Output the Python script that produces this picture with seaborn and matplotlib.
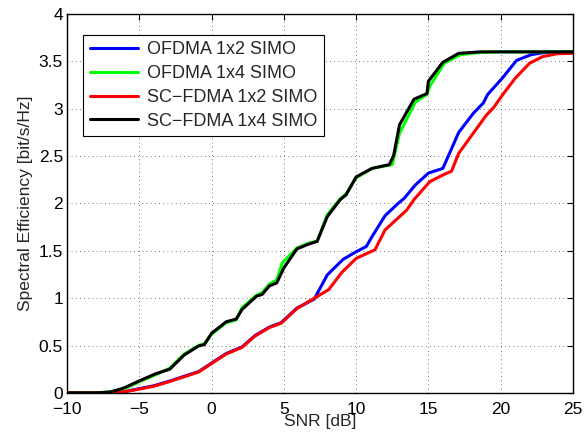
import numpy as np
import pandas as pd
import seaborn as sns
import matplotlib
matplotlib.use("Agg")
import matplotlib.pyplot as plt

# SNR [dB] breakpoints and spectral efficiency [bit/s/Hz]
snr_ofdma_2 = [-10, -9, -8, -7, -6.1, -5.0, -4.0, -2.9, -1.9, -0.9, 0, 1.0, 2.1, 3.0,
               4.0, 4.8, 5.9, 7.1, 8.0, 9.1, 10.0, 10.7, 11.1, 12.0, 12.9, 13.3, 14.1,
               15.0, 16.0, 17.1, 18.1, 18.8, 19.1, 20.1, 21.1, 22.1, 22.9, 23.5, 25]
se_ofdma_2 = [0, 0, 0, 0, 0.01, 0.045, 0.075, 0.125, 0.175, 0.225, 0.315, 0.415, 0.485,
              0.605, 0.695, 0.74, 0.895, 0.99, 1.245, 1.41, 1.49, 1.545, 1.65, 1.87,
              2.0, 2.05, 2.195, 2.32, 2.37, 2.75, 2.95, 3.06, 3.15, 3.32, 3.51, 3.57,
              3.59, 3.60, 3.60]

snr_ofdma_4 = [-10, -9, -8, -7, -6.1, -5.1, -3.9, -2.9, -1.9, -0.9, -0.5, 0, 1.0, 1.7,
               2.1, 3.1, 3.5, 4.0, 4.5, 4.9, 5.9, 6.7, 7.3, 8.0, 8.9, 9.3, 10.0, 11.1,
               12.5, 13.0, 14.1, 14.9, 15.1, 16.1, 17.2, 18.6, 20, 22, 25]
se_ofdma_4 = [0, 0, 0, 0.01, 0.04, 0.11, 0.19, 0.26, 0.41, 0.50, 0.52, 0.62, 0.74, 0.77,
              0.90, 1.03, 1.06, 1.15, 1.19, 1.375, 1.53, 1.58, 1.60, 1.88, 2.05, 2.10,
              2.27, 2.37, 2.41, 2.74, 3.07, 3.15, 3.24, 3.48, 3.57, 3.595, 3.60, 3.60, 3.60]

snr_scfdma_2 = [-10, -9, -8, -7, -6.1, -5.0, -4.0, -2.9, -1.9, -0.9, 0, 1.0, 2.1, 3.0,
                4.0, 4.8, 5.9, 7.0, 8.1, 9.0, 10.0, 11.3, 12.0, 13.5, 14.0, 15.1, 16.0,
                16.6, 17.1, 18.1, 19.0, 19.5, 20.2, 21.0, 22.0, 22.9, 23.9, 25]
se_scfdma_2 = [0, 0, 0, 0, 0.01, 0.04, 0.07, 0.12, 0.17, 0.22, 0.31, 0.41, 0.48, 0.60,
               0.69, 0.735, 0.89, 0.99, 1.09, 1.27, 1.42, 1.51, 1.72, 1.93, 2.04, 2.23,
               2.30, 2.34, 2.53, 2.74, 2.93, 3.01, 3.16, 3.32, 3.48, 3.55, 3.58, 3.585]

snr_scfdma_4 = [-10, -9, -8, -7, -6.1, -5.1, -3.9, -2.9, -1.9, -0.9, -0.5, 0, 1.0, 1.7,
                2.1, 3.1, 3.5, 4.0, 4.5, 5.0, 5.9, 6.7, 7.3, 8.0, 8.9, 9.3, 10.0, 11.1,
                12.3, 12.6, 13.0, 14.0, 14.9, 15.0, 16.0, 17.1, 18.6, 20, 22, 25]
se_scfdma_4 = [0, 0, 0, 0.01, 0.05, 0.12, 0.20, 0.25, 0.40, 0.495, 0.51, 0.63, 0.75, 0.78,
               0.88, 1.02, 1.04, 1.13, 1.16, 1.32, 1.52, 1.57, 1.60, 1.86, 2.04, 2.09,
               2.28, 2.37, 2.41, 2.51, 2.83, 3.10, 3.16, 3.29, 3.49, 3.585, 3.60, 3.60,
               3.60, 3.60]

series = [
    ("OFDMA 1x2 SIMO", snr_ofdma_2, se_ofdma_2, "#0000ff"),
    ("OFDMA 1x4 SIMO", snr_ofdma_4, se_ofdma_4, "#00ff00"),
    ("SC\u2212FDMA 1x2 SIMO", snr_scfdma_2, se_scfdma_2, "#ff0000"),
    ("SC\u2212FDMA 1x4 SIMO", snr_scfdma_4, se_scfdma_4, "#000000"),
]

sns.set_style("white")
plt.rcParams["font.family"] = ["Liberation Sans", "DejaVu Sans"]

fig = plt.figure(figsize=(5.84, 4.37), dpi=100)
ax = fig.add_axes([0.115, 0.101, 0.866, 0.867])

for name, x, y, color in series:
    df = pd.DataFrame({"snr": x, "se": y})
    sns.lineplot(data=df, x="snr", y="se", ax=ax, color=color, linewidth=2.2,
                 label=name, estimator=None, sort=False)

ax.set_xlim(-10, 25)
ax.set_ylim(0, 4)
ax.set_xticks(np.arange(-10, 26, 5))
ax.set_yticks(np.arange(0, 4.01, 0.5))
ax.set_yticklabels(["0", "0.5", "1", "1.5", "2", "2.5", "3", "3.5", "4"])
ax.grid(True, linestyle=(0, (1, 4)), color="black", linewidth=0.6, alpha=0.7)
ax.tick_params(direction="in", top=True, right=True, length=4, width=0.8,
               labelsize=12.5, colors="black")
ax.tick_params(axis="x", pad=6.5)
ax.tick_params(axis="y", pad=3)
for sp in ax.spines.values():
    sp.set_color("black")
    sp.set_linewidth(1.0)

ax.set_xlabel("SNR [dB]", fontsize=12.5, labelpad=-2)
ax.set_ylabel("Spectral Efficiency [bit/s/Hz]", fontsize=12.5, labelpad=4)

leg = ax.legend(loc="upper left", bbox_to_anchor=(0.032, 0.945), fontsize=13,
                frameon=True, fancybox=False, framealpha=1, edgecolor="black",
                handlelength=2.7, handletextpad=0.5, borderpad=0.35,
                labelspacing=0.38, borderaxespad=0)
leg.get_frame().set_linewidth(0.8)

fig.savefig("out.png", dpi=100)
